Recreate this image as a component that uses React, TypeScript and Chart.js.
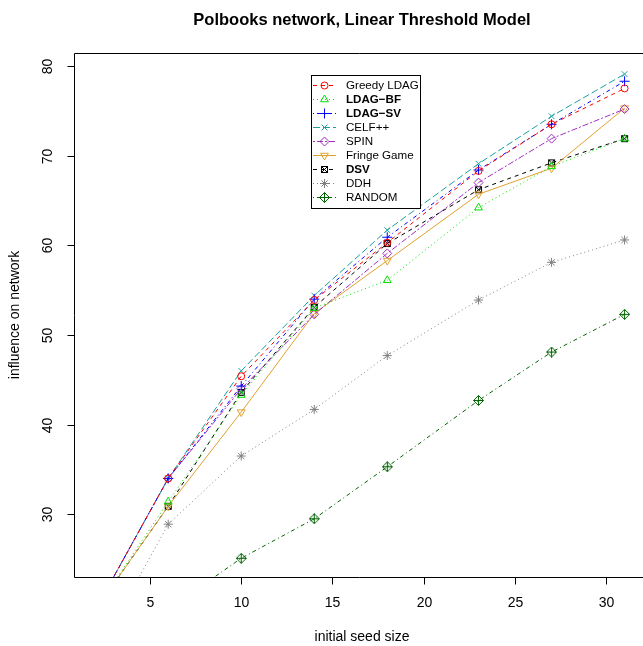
import React, { useEffect, useRef } from "react";
import { Chart, registerables } from "chart.js";

Chart.register(...registerables);

// ---------- data ----------
const seedSizes = [2, 6, 10, 14, 18, 23, 27, 31];
const greedyLDAG = [19.3, 34.0, 45.4, 53.9, 60.3, 68.3, 73.5, 77.5];
const ldagBF = [19.3, 31.4, 43.3, 53.0, 56.1, 64.2, 68.8, 71.9];
const ldagSV = [19.3, 34.0, 44.3, 54.0, 60.9, 68.4, 73.5, 78.3];
const celfPP = [19.3, 34.0, 46.0, 54.4, 61.7, 69.1, 74.4, 79.1];
const spin = [19.3, 34.0, 44.0, 52.3, 59.1, 67.0, 71.9, 75.2];
const fringeGame = [19.3, 30.9, 41.4, 52.4, 58.3, 65.7, 68.6, 75.3];
const dsv = [19.3, 30.9, 43.6, 53.1, 60.2, 66.2, 69.2, 71.9];
const ddh = [14.1, 28.9, 36.5, 41.7, 47.7, 53.9, 58.1, 60.6];
const randomSel = [13.7, 19.4, 25.1, 29.5, 35.3, 42.7, 48.1, 52.3];

const seriesLabels = [
  "Greedy LDAG",
  "LDAG\u2212BF",
  "LDAG\u2212SV",
  "CELF++",
  "SPIN",
  "Fringe Game",
  "DSV",
  "DDH",
  "RANDOM",
];
const seriesValues = [greedyLDAG, ldagBF, ldagSV, celfPP, spin, fringeGame, dsv, ddh, randomSel];
const boldLabels = [false, true, true, false, false, false, true, false, false];

const xTicks = [5, 10, 15, 20, 25, 30];
const yTicks = [30, 40, 50, 60, 70, 80];
const titleText = "Polbooks network, Linear Threshold Model";
const xAxisLabel = "initial seed size";
const yAxisLabel = "influence on network";

// ---------- styles ----------
const FONT = "'Liberation Sans', Arial, Helvetica, sans-serif";
const colors = ["#FF0000", "#00E000", "#0000FF", "#1A9E9E", "#A030C0", "#E0A030", "#000000", "#808080", "#006400"];
const dashes: number[][] = [[4, 4], [1, 3], [1, 3, 4, 3], [7, 3], [2, 2, 6, 2], [], [4, 4], [1, 3], [1, 3, 4, 3]];
const radii = [3.5, 4.5, 5, 4, 4.5, 4.5, 4, 4.5, 5];

function makeSquareX(color: string) {
  const c = document.createElement("canvas");
  c.width = 9;
  c.height = 9;
  const g = c.getContext("2d")!;
  g.strokeStyle = color;
  g.lineWidth = 1;
  g.strokeRect(1.5, 1.5, 6, 6);
  g.beginPath();
  g.moveTo(1.5, 1.5);
  g.lineTo(7.5, 7.5);
  g.moveTo(7.5, 1.5);
  g.lineTo(1.5, 7.5);
  g.stroke();
  return c;
}

function makeDiamondPlus(color: string) {
  const c = document.createElement("canvas");
  c.width = 11;
  c.height = 11;
  const g = c.getContext("2d")!;
  g.strokeStyle = color;
  g.lineWidth = 1;
  g.beginPath();
  g.moveTo(5.5, 0.5);
  g.lineTo(10.5, 5.5);
  g.lineTo(5.5, 10.5);
  g.lineTo(0.5, 5.5);
  g.closePath();
  g.moveTo(5.5, 0.5);
  g.lineTo(5.5, 10.5);
  g.moveTo(0.5, 5.5);
  g.lineTo(10.5, 5.5);
  g.stroke();
  return c;
}

const pointImages: any[] = [];
function pointStyleFor(i: number): any {
  switch (i) {
    case 0: return "circle";
    case 1: return "triangle";
    case 2: return "cross";
    case 3: return "crossRot";
    case 4: return "rectRot";
    case 5: return "triangle";
    case 6: return pointImages[6];
    case 7: return "star";
    default: return pointImages[8];
  }
}

function drawMarker(ctx: CanvasRenderingContext2D, i: number, x: number, y: number) {
  const r = radii[i];
  const style = pointStyleFor(i);
  ctx.strokeStyle = colors[i];
  ctx.lineWidth = 1;
  ctx.setLineDash([]);
  if (typeof style !== "string") {
    ctx.drawImage(style, Math.round(x - style.width / 2), Math.round(y - style.height / 2));
    return;
  }
  ctx.beginPath();
  const tri = (rot: number) => {
    let a = rot;
    ctx.moveTo(x + Math.sin(a) * r, y - Math.cos(a) * r);
    a += (2 * Math.PI) / 3;
    ctx.lineTo(x + Math.sin(a) * r, y - Math.cos(a) * r);
    a += (2 * Math.PI) / 3;
    ctx.lineTo(x + Math.sin(a) * r, y - Math.cos(a) * r);
    ctx.closePath();
  };
  const plus = () => {
    ctx.moveTo(x - r, y); ctx.lineTo(x + r, y);
    ctx.moveTo(x, y - r); ctx.lineTo(x, y + r);
  };
  const ex = () => {
    const d = r * Math.SQRT1_2;
    ctx.moveTo(x - d, y - d); ctx.lineTo(x + d, y + d);
    ctx.moveTo(x + d, y - d); ctx.lineTo(x - d, y + d);
  };
  if (style === "circle") ctx.arc(x, y, r, 0, Math.PI * 2);
  else if (style === "triangle") tri(i === 5 ? Math.PI : 0);
  else if (style === "cross") plus();
  else if (style === "crossRot") ex();
  else if (style === "rectRot") {
    ctx.moveTo(x - r, y); ctx.lineTo(x, y - r); ctx.lineTo(x + r, y); ctx.lineTo(x, y + r); ctx.closePath();
  } else if (style === "star") { plus(); ex(); }
  ctx.stroke();
}

const decorPlugin = {
  id: "decor",
  afterDraw(chart: any) {
    const { ctx, chartArea: ca, scales } = chart;
    const xs = scales.x;
    const ys = scales.y;
    ctx.save();
    ctx.strokeStyle = "#000";
    ctx.lineWidth = 1;
    ctx.setLineDash([]);
    const L = Math.round(ca.left) + 0.5;
    const T = Math.round(ca.top) + 0.5;
    const B = Math.round(ca.bottom) + 0.5;
    ctx.beginPath();
    ctx.moveTo(ca.right + 20, T);
    ctx.lineTo(L, T);
    ctx.lineTo(L, B);
    ctx.lineTo(ca.right + 20, B);
    ctx.stroke();

    ctx.fillStyle = "#000";
    ctx.font = `14px ${FONT}`;
    ctx.textAlign = "center";
    ctx.textBaseline = "middle";
    for (const t of xTicks) {
      const px = Math.round(xs.getPixelForValue(t)) + 0.5;
      ctx.beginPath();
      ctx.moveTo(px, B);
      ctx.lineTo(px, B + 7);
      ctx.stroke();
      ctx.fillText(String(t), px, 603);
    }
    for (const t of yTicks) {
      const py = Math.round(ys.getPixelForValue(t)) + 0.5;
      ctx.beginPath();
      ctx.moveTo(L, py);
      ctx.lineTo(L - 7, py);
      ctx.stroke();
      ctx.save();
      ctx.translate(48, py);
      ctx.rotate(-Math.PI / 2);
      ctx.fillText(String(t), 0, 0);
      ctx.restore();
    }
    ctx.fillText(xAxisLabel, (ca.left + 650) / 2, 637);
    ctx.save();
    ctx.translate(15, (ca.top + ca.bottom) / 2);
    ctx.rotate(-Math.PI / 2);
    ctx.fillText(yAxisLabel, 0, 0);
    ctx.restore();
    ctx.font = `bold 16.5px ${FONT}`;
    ctx.fillText(titleText, (ca.left + 650) / 2, 20);

    // legend
    const lx = 311.5, ly = 75.5, lw = 109, lh = 133;
    ctx.fillStyle = "#fff";
    ctx.fillRect(lx, ly, lw, lh);
    ctx.strokeStyle = "#000";
    ctx.strokeRect(lx, ly, lw, lh);
    for (let i = 0; i < seriesLabels.length; i++) {
      const yy = Math.round(85 + i * 13.95) + 0.5;
      ctx.strokeStyle = colors[i];
      ctx.lineWidth = 1;
      ctx.setLineDash(dashes[i]);
      ctx.beginPath();
      ctx.moveTo(313, yy);
      ctx.lineTo(336, yy);
      ctx.stroke();
      drawMarker(ctx, i, 324.5, yy);
      ctx.fillStyle = "#000";
      ctx.font = `${boldLabels[i] ? "bold " : ""}11.6px ${FONT}`;
      ctx.textAlign = "left";
      ctx.textBaseline = "middle";
      ctx.fillText(seriesLabels[i], 346, yy);
    }
    ctx.restore();
  },
};

export default function App() {
  const ref = useRef<HTMLCanvasElement | null>(null);
  useEffect(() => {
    if (!ref.current) return;
    pointImages[6] = makeSquareX(colors[6]);
    pointImages[8] = makeDiamondPlus(colors[8]);
    const datasets = seriesValues.map((vals, i) => ({
      label: seriesLabels[i],
      data: seedSizes.map((s, k) => ({ x: s, y: vals[k] })),
      borderColor: colors[i],
      backgroundColor: "rgba(0,0,0,0)",
      borderWidth: 1,
      borderDash: dashes[i],
      pointStyle: pointStyleFor(i),
      pointRotation: i === 5 ? 180 : 0,
      pointRadius: radii[i],
      pointBorderColor: colors[i],
      pointBackgroundColor: "rgba(0,0,0,0)",
      pointBorderWidth: 1,
      tension: 0,
      clip: 0,
      fill: false,
    }));
    const chart = new Chart(ref.current, {
      type: "line",
      data: { datasets },
      options: {
        animation: false,
        responsive: false,
        events: [],
        layout: { padding: { left: 74, top: 53, right: 0, bottom: 69 } },
        scales: {
          x: { type: "linear", min: 0.84, max: 31.68, display: false },
          y: { type: "linear", min: 23.01, max: 81.45, display: false },
        },
        plugins: { legend: { display: false }, title: { display: false }, tooltip: { enabled: false } },
      },
      plugins: [decorPlugin],
    } as any);
    return () => chart.destroy();
  }, []);
  return (
    <div style={{ position: "fixed", left: 0, top: 0, width: 643, height: 646, background: "#fff" }}>
      <canvas ref={ref} width={643} height={646} />
    </div>
  );
}
